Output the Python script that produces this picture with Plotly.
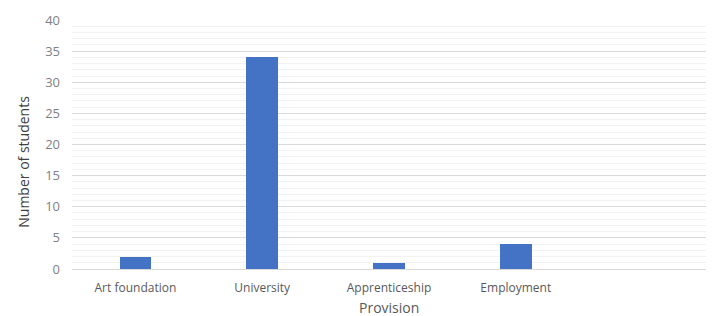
import plotly.graph_objects as go

categories = ["Art foundation", "University", "Apprenticeship", "Employment"]
values = [2, 34, 1, 4]
y_ticks = [0, 5, 10, 15, 20, 25, 30, 35, 40]

positions = list(range(len(categories)))

fig = go.Figure(go.Bar(
    x=positions, y=values, width=0.25,
    marker=dict(color="#4472C4", line=dict(width=0)),
))

font_family = "Open Sans, Liberation Sans, sans-serif"
# page body has an 8px default margin, so the figure is sized/margined to compensate
fig.update_layout(
    width=716, height=308,
    margin=dict(l=64, r=18, t=12, b=47, autoexpand=False),
    paper_bgcolor="white", plot_bgcolor="white",
    showlegend=False,
    font=dict(family=font_family, color="#595959", size=12),
    bargap=0,
    annotations=[
        dict(text="Number of students", xref="paper", yref="paper",
             x=-0.076, y=0.43, xanchor="center", yanchor="middle",
             textangle=-90, showarrow=False,
             font=dict(size=14, color="#404040")),
        dict(text="Provision", xref="paper", yref="paper",
             x=0.5, y=-0.155, xanchor="center", yanchor="middle",
             showarrow=False, font=dict(size=14, color="#595959")),
    ],
)
fig.update_xaxes(
    range=[-0.5, 4.5], automargin=False,
    tickmode="array", tickvals=positions, ticktext=categories,
    showgrid=False, zeroline=False, showline=False,
    ticks="", ticklen=0, ticklabelstandoff=10,
    tickfont=dict(size=12, color="#595959"),
)
fig.update_yaxes(
    range=[0, 40], automargin=False,
    tickmode="array", tickvals=y_ticks,
    showgrid=True, gridcolor="#D9D9D9", gridwidth=1,
    minor=dict(dtick=1, showgrid=True, gridcolor="#F2F2F2", gridwidth=1, ticks=""),
    zeroline=True, zerolinecolor="#D9D9D9", zerolinewidth=1,
    showline=False, ticks="", ticklen=0, ticklabelstandoff=11,
    tickfont=dict(size=13, color="#7F7F7F"),
)

fig.write_html("out.html")
